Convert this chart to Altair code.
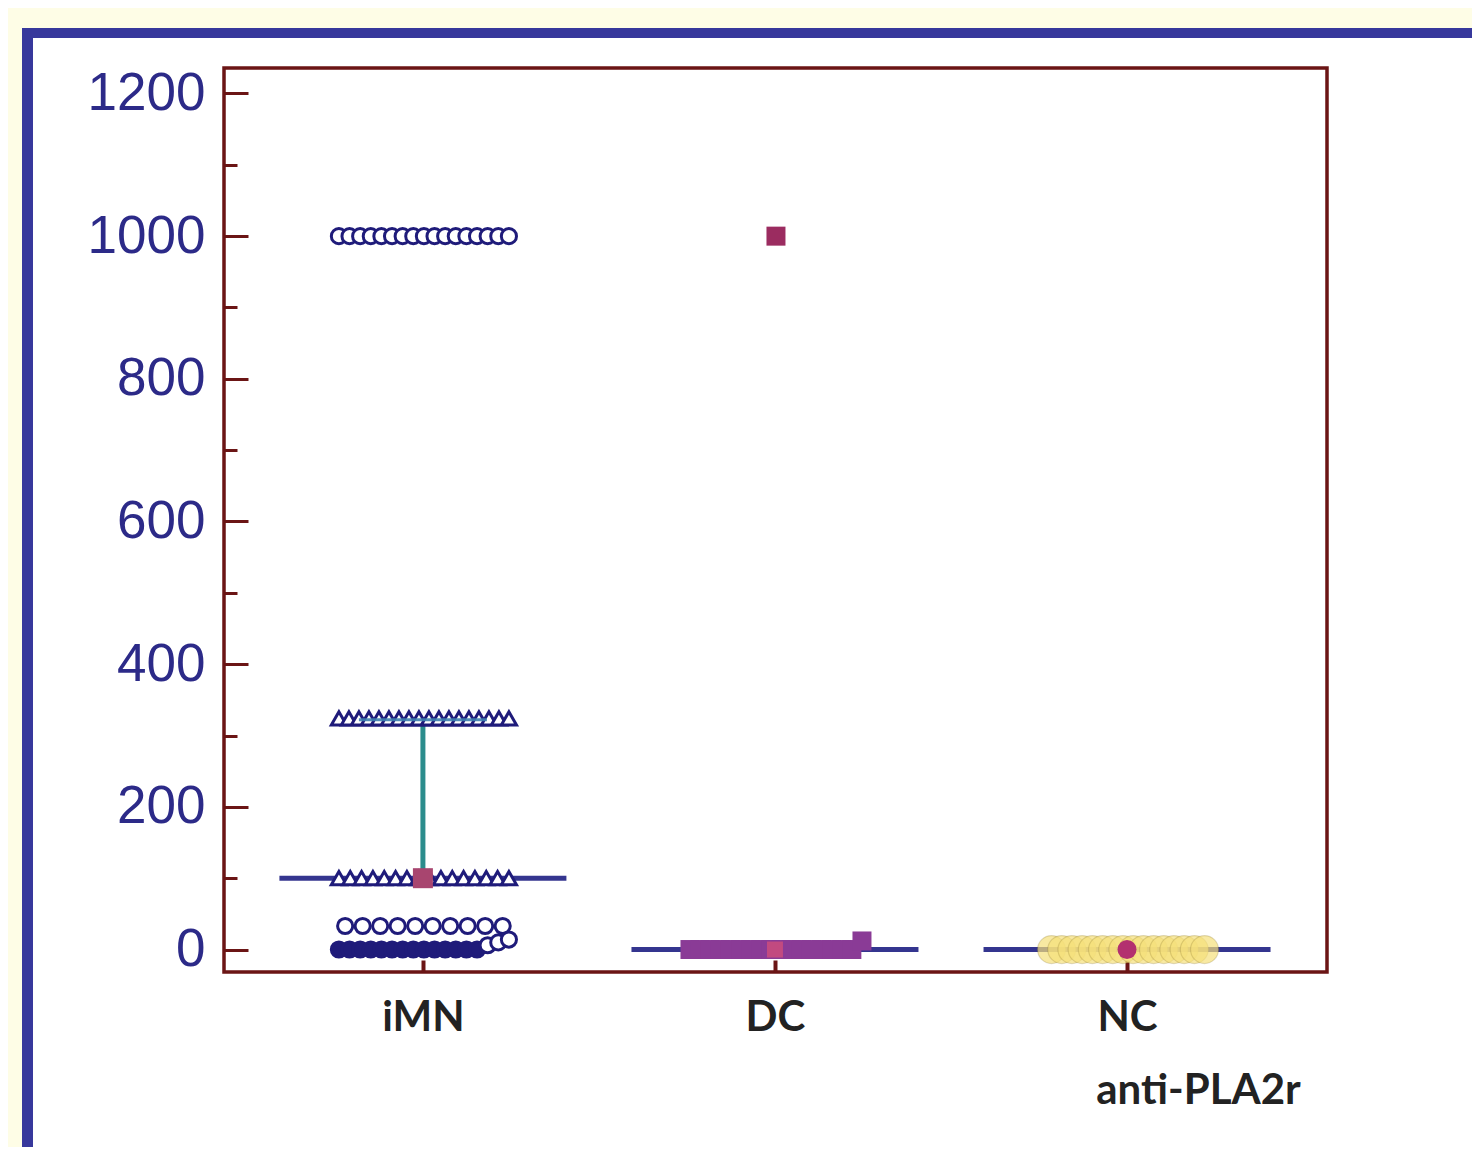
import json
import altair as alt
import pandas as pd

# ---------------- data ----------------
groups = ["iMN", "DC", "NC"]

imn_values = [
    1000, 1000, 1000, 1000, 1000, 1000, 1000, 1000, 1000, 1000, 1000, 1000, 1000, 1000, 1000, 1000, 1000,
    324, 324, 324, 324, 324, 324, 324, 324, 324, 324, 324, 324, 324, 324, 324, 324, 324, 324,
    100, 100, 100, 100, 100, 100, 100, 100, 100, 100, 100, 100, 100, 100, 100, 100,
    33, 33, 33, 33, 33, 33, 33, 33, 33, 33,
    0, 0, 0, 0, 0, 0, 0, 0, 0, 0, 0, 0, 0, 0, 6, 10, 14,
]
dc_values = [1000, 0, 0, 0, 0, 0, 0, 0, 0, 0, 0, 0, 0, 0, 0, 0, 0, 0, 12]
nc_values = [0, 0, 0, 0, 0, 0, 0, 0, 0, 0, 0, 0, 0, 0, 0, 0]

medians = [100, 0, 0]
imn_q1 = 100
imn_q3 = 322

y_label_ticks = [0, 200, 400, 600, 800, 1000, 1200]
y_all_ticks = [0, 100, 200, 300, 400, 500, 600, 700, 800, 900, 1000, 1100, 1200]
x_title = "anti-PLA2r"

# ---------------- layout / style ----------------
W, H = 1103, 904
X_DOMAIN = [-0.565, 2.568]
Y_DOMAIN = [-31.5, 1235.7]
PX = W / (X_DOMAIN[1] - X_DOMAIN[0])  # pixels per group step

NAVY = "#1F1B7A"
MEDLINE = "#34358F"
TEAL = "#2B8C8C"
DARKRED = "#6B1515"
CREAM = "#FEFDE6"
FRAME = "#37389C"


def swarm(values, span, maxgap):
    """horizontal beeswarm offsets (pixels) for points that share a row"""
    order = sorted(range(len(values)), key=lambda i: values[i])
    rows = []
    for i in order:
        if rows and values[i] - values[rows[-1][0]] <= 15:
            rows[-1].append(i)
        else:
            rows.append([i])
    off = [0.0] * len(values)
    for r in rows:
        n = len(r)
        gap = min(maxgap, span / (n - 1)) if n > 1 else 0
        for k, i in enumerate(r):
            off[i] = (k - (n - 1) / 2) * gap
    return off


def points_df(gi, values, span, maxgap):
    off = swarm(values, span, maxgap)
    return pd.DataFrame({
        "g": [gi] * len(values),
        "x": [gi + o / PX + 1.0 / PX for o in off],
        "v": values,
    })


imn_df = points_df(0, imn_values, 170, 17.5)
dc_df = points_df(1, dc_values, 172, 17.5)
nc_df = points_df(2, nc_values, 153, 17.5)
med_df = pd.DataFrame({"g": [0, 1, 2], "group": groups, "v": medians})
iqr_df = pd.DataFrame({"g": [0], "q1": [imn_q1], "q3": [imn_q3]})

xs = alt.Scale(domain=X_DOMAIN, nice=False, zero=False)
ys = alt.Scale(domain=Y_DOMAIN, nice=False, zero=False)

label_expr = json.dumps(groups) + "[datum.value]"

# ---------------- decoration (frame of the slide) ----------------
one = alt.Data(values=[{"d": 1}])
cream_top = alt.Chart(one).mark_rect(color=CREAM).encode(
    x=alt.value(-216), x2=alt.value(W + 145), y=alt.value(-60), y2=alt.value(-40))
cream_left = alt.Chart(one).mark_rect(color=CREAM).encode(
    x=alt.value(-216), x2=alt.value(-202), y=alt.value(-60), y2=alt.value(H + 175))
blue_top = alt.Chart(one).mark_rect(color=FRAME).encode(
    x=alt.value(-202), x2=alt.value(W + 145), y=alt.value(-40), y2=alt.value(-30))
blue_left = alt.Chart(one).mark_rect(color=FRAME).encode(
    x=alt.value(-202), x2=alt.value(-191), y=alt.value(-40), y2=alt.value(H + 175))

# ---------------- median lines (carry the label axes) ----------------
med_lines = alt.Chart(med_df).mark_tick(
    orient="horizontal", size=287, thickness=5, color=MEDLINE, opacity=1
).encode(
    x=alt.X("g:Q", scale=xs, axis=alt.Axis(
        orient="bottom", values=[0, 1, 2], labelExpr=label_expr,
        ticks=False, tickSize=0, domain=False, grid=False,
        labelFont="Lato", labelFontSize=42, labelFontWeight="bold",
        labelColor="#222222", labelBaseline="alphabetic", labelPadding=58,
        title=x_title, titleFont="Lato", titleFontSize=42, titleFontWeight="bold",
        titleColor="#222222", titleX=974, titleY=131, titleBaseline="alphabetic",
        titleAlign="center")),
    y=alt.Y("v:Q", scale=ys, axis=alt.Axis(
        orient="left", values=y_label_ticks, format="d", ticks=False, tickSize=0,
        domain=False, grid=False, labelFont="Liberation Sans", labelFontSize=53,
        labelColor="#2C2A88", labelPadding=19, title="")),
)

iqr_rule = alt.Chart(iqr_df).mark_rule(color=TEAL, strokeWidth=5).encode(
    x=alt.X("g:Q", scale=xs, axis=None),
    y=alt.Y("q1:Q", scale=ys, axis=None),
    y2="q3:Q",
)

# ---------------- iMN points (carry the inward tick axes) ----------------
imn_pts = alt.Chart(imn_df).mark_point(
    filled=True, size=230, stroke=NAVY, strokeWidth=3, opacity=1
).encode(
    x=alt.X("x:Q", scale=xs, axis=alt.Axis(
        orient="top", offset=-H, values=[0, 1, 2], labels=False, domain=False,
        grid=False, ticks=True, tickSize=12, tickWidth=4, tickColor=DARKRED,
        title="")),
    y=alt.Y("v:Q", scale=ys, axis=alt.Axis(
        orient="right", offset=-W, values=y_all_ticks, labels=False, domain=False,
        grid=False, ticks=True,
        tickSize={"condition": {"test": "datum.value % 200 === 0", "value": 24}, "value": 13},
        tickWidth=3, tickColor=DARKRED, title="")),
    shape=alt.condition("datum.v === 324 || datum.v === 100",
                        alt.value("triangle-up"), alt.value("circle")),
    fill=alt.condition("datum.v === 0", alt.value(NAVY), alt.value("white")),
)

iqr_cap = alt.Chart(iqr_df).mark_tick(
    orient="horizontal", size=128, thickness=3, color="#3F7FB0", opacity=0.9
).encode(
    x=alt.X("g:Q", scale=xs, axis=None),
    y=alt.Y("q3:Q", scale=ys, axis=None),
)

dc_pts = alt.Chart(dc_df).mark_square(
    size=361, opacity=1
).encode(
    x=alt.X("x:Q", scale=xs, axis=None),
    y=alt.Y("v:Q", scale=ys, axis=None),
    color=alt.condition("datum.v > 500", alt.value("#9B2C60"), alt.value("#8A3B96")),
)

nc_pts = alt.Chart(nc_df).mark_circle(
    size=784, color="#F5E07A", fillOpacity=0.7, stroke="#6E5A14",
    strokeWidth=1.2, strokeOpacity=0.2
).encode(
    x=alt.X("x:Q", scale=xs, axis=None),
    y=alt.Y("v:Q", scale=ys, axis=None),
)

med_imn = alt.Chart(med_df[med_df.g == 0]).mark_square(
    size=400, color="#A8456F", opacity=1).encode(
    x=alt.X("g:Q", scale=xs, axis=None), y=alt.Y("v:Q", scale=ys, axis=None))
med_dc = alt.Chart(med_df[med_df.g == 1]).mark_square(
    size=256, color="#C24A80", opacity=1).encode(
    x=alt.X("g:Q", scale=xs, axis=None), y=alt.Y("v:Q", scale=ys, axis=None))
med_nc = alt.Chart(med_df[med_df.g == 2]).mark_circle(
    size=361, color="#B3306F", opacity=1).encode(
    x=alt.X("g:Q", scale=xs, axis=None), y=alt.Y("v:Q", scale=ys, axis=None))

chart = alt.layer(
    cream_top, cream_left, blue_top, blue_left,
    med_lines, iqr_rule, imn_pts, iqr_cap, dc_pts, nc_pts,
    med_imn, med_dc, med_nc,
).resolve_axis(
    x="independent", y="independent"
).properties(
    width=W, height=H,
    autosize=alt.AutoSizeParams(type="none"),
    padding={"left": 216, "top": 60, "right": 145, "bottom": 175},
    background="white",
).configure_view(
    stroke=DARKRED, strokeWidth=3.5, fill="white"
)

chart.save("out.html", embed_options={"renderer": "svg", "actions": False})
